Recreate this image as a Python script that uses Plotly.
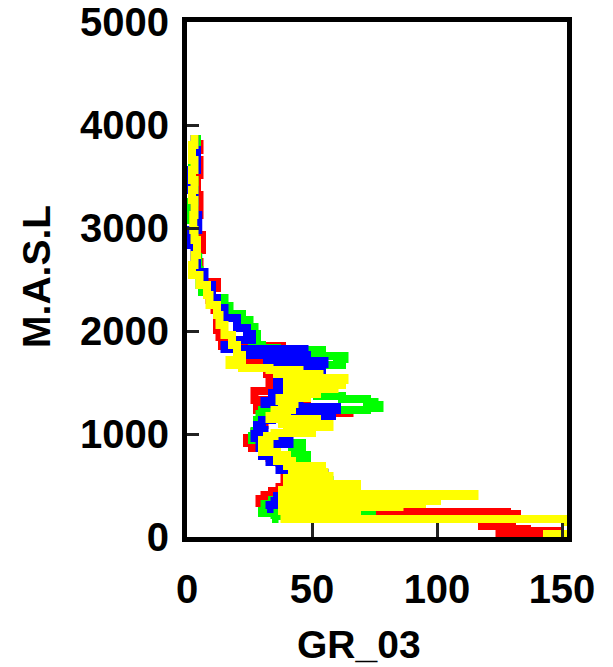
import plotly.graph_objects as go

# ---------------- data (MASL depth, GR value) ----------------
red_masl = [3855, 3758, 3661, 3515, 3321, 3127, 2932, 2787, 2670, 2573, 2476, 2418, 2301, 2204,
            2107, 2010, 1942, 1893, 1855, 1816, 1758, 1699, 1641, 1583, 1524, 1466, 1418, 1369,
            1330, 1301, 1252, 1233, 1204, 1155, 1088, 1020, 961, 913, 864, 816, 767, 719, 670,
            622, 573, 524, 485, 447, 408, 369, 330, 291, 262, 243, 223, 184, 126, 107, 78, 58,
            39, 10, -29]
red_gr = [5, 4, 5, 4, 5, 4, 6, 4, 5, 6, 12, 9, 11, 13,
          12, 13, 15, 14, 38, 20, 25, 30, 32, 33, 34, 33, 27, 27,
          48, 30, 28, 65, 34, 31, 28, 27, 24, 26, 30, 33, 37, 38, 40,
          39, 40, 39, 37, 34, 31, 29, 30, 33, 70, 128, 132, 120, 118, 130, 136, 149,
          125, 140, 140]

green_masl = [3903, 3661, 3466, 3253, 3078, 2884, 2719, 2593, 2447, 2379, 2321, 2243, 2165, 2107,
              2039, 1971, 1913, 1864, 1835, 1816, 1787, 1758, 1728, 1699, 1670, 1641, 1583, 1544,
              1485, 1427, 1398, 1369, 1340, 1311, 1282, 1252, 1233, 1194, 1136, 1078, 1029, 981,
              942, 913, 874, 835, 796, 757, 709, 670, 631, 583, 553, 515, 456, 398, 359, 320,
              282, 252, 233, 204, 175]
green_gr = [4, 2, 3, 0.5, 3, 4, 4.5, 5, 6, 10, 15, 17, 22, 25,
            27, 28, 26, 30, 36, 54, 46, 63, 60, 62, 40, 38, 40, 45,
            52, 48, 52, 62, 72, 75, 77, 72, 30, 29, 28, 29, 27, 26,
            40, 46, 42, 45, 48, 43, 38, 45, 48, 56, 57, 47, 42, 38, 34, 31,
            31, 30, 74, 35, 34]

blue_masl = [3903, 3758, 3564, 3369, 3127, 2981, 2835, 2670, 2573, 2447, 2321, 2224, 2126, 2029,
             1971, 1913, 1864, 1826, 1796, 1767, 1738, 1709, 1680, 1651, 1622, 1592, 1563, 1515,
             1476, 1437, 1398, 1359, 1321, 1291, 1262, 1233, 1204, 1175, 1136, 1088, 1039, 1000,
             961, 932, 903, 864, 825, 787, 728, 689, 651, 622, 592, 563, 524, 485, 447, 398,
             350, 311, 272]
blue_gr = [3, 4, 0.5, 3, 4.5, 1, 3, 4, 7, 10, 12, 15, 20, 24,
           26, 18, 15, 47, 25, 48, 32, 55, 34, 54, 38, 50, 36, 44,
           36, 46, 34, 38, 31, 45, 60, 44, 58, 34, 30, 28, 31, 27,
           30, 41, 29, 33, 30, 33, 38, 37, 52, 55, 50, 42, 45, 40, 38, 36,
           35, 33, 32]

yellow_masl = [3903, 3806, 3661, 3564, 3466, 3369, 3272, 3127, 2981, 2884, 2738, 2641, 2544, 2447,
               2350, 2253, 2156, 2059, 1961, 1864, 1816, 1767, 1719, 1670, 1641, 1622, 1602, 1583,
               1563, 1544, 1524, 1505, 1476, 1456, 1437, 1408, 1388, 1369, 1350, 1321, 1291, 1262,
               1233, 1204, 1175, 1146, 1117, 1097, 1068, 1039, 1010, 981, 942, 903, 864, 825, 796,
               767, 738, 709, 689, 670, 651, 631, 612, 592, 573, 553, 534, 515, 495, 476, 456,
               437, 418, 398, 379, 369, 350, 340, 320, 311, 291, 282, 262, 252, 233, 175, 146,
               29, -29]
yellow_gr = [3, 2, 3, 2, 3, 2, 3, 2.5, 3, 4, 3, 2, 5, 8,
             9, 12, 13, 15, 18, 20, 20, 22, 17, 22, 33, 45, 36, 53,
             40, 63, 45, 62, 40, 59, 42, 52, 40, 48, 37, 43, 38, 42,
             35, 40, 33, 52, 38, 57, 40, 50, 35, 32, 30, 33, 30, 36, 40,
             36, 42, 40, 54, 42, 45, 55, 42, 57, 40, 57, 42, 68, 40, 68, 38,
             50, 115, 38, 60, 100, 38, 94, 38, 85, 38, 60, 38, 68, 39, 152, 220,
             144, 144]

series = [
    ("red", red_gr, red_masl, "#ff0000"),
    ("green", green_gr, green_masl, "#00ff00"),
    ("blue", blue_gr, blue_masl, "#0000ff"),
    ("yellow", yellow_gr, yellow_masl, "#ffff00"),
]

x_ticks = [0, 50, 100, 150]
y_ticks = [0, 1000, 2000, 3000, 4000, 5000]

# ---------------- figure ----------------
fig = go.Figure()
for name, gr, masl, col in series:
    fig.add_trace(go.Scatter(x=gr, y=masl, mode="lines", name=name,
                             line=dict(color=col, width=8, shape="vh"),
                             hoverinfo="skip"))

tick_font = dict(family="Liberation Sans, Arial, sans-serif", size=40, color="black", weight="bold")
title_font = dict(family="Liberation Sans, Arial, sans-serif", size=39, color="black", weight="bold")

fig.update_layout(
    width=605, height=659,
    margin=dict(l=179, r=46, t=14, b=130),
    plot_bgcolor="white", paper_bgcolor="white",
    showlegend=False,
    font=tick_font,
)
fig.update_xaxes(range=[0, 152], tickmode="array", tickvals=x_ticks,
                 ticktext=[str(v) for v in x_ticks],
                 ticks="inside", ticklen=14, tickwidth=3, tickcolor="#222",
                 showline=True, linewidth=5, linecolor="black", mirror=True,
                 showgrid=False, zeroline=False, ticklabelstandoff=13,
                 ticklabeloverflow="allow",
                 automargin=False, tickfont=tick_font)
fig.update_yaxes(range=[0, 5000], tickmode="array", tickvals=y_ticks,
                 ticktext=[str(v) for v in y_ticks],
                 ticks="inside", ticklen=12, tickwidth=3, tickcolor="#222",
                 showline=True, linewidth=5, linecolor="black", mirror=True,
                 showgrid=False, zeroline=False, ticklabelstandoff=5,
                 ticklabeloverflow="allow",
                 automargin=False, tickfont=tick_font)

fig.add_annotation(text="GR_03", xref="paper", yref="paper", x=0.4526, y=-0.2097,
                   xanchor="center", yanchor="middle", showarrow=False, font=title_font)
fig.add_annotation(text="M.A.S.L", xref="paper", yref="paper", x=-0.3947, y=0.505,
                   xanchor="center", yanchor="middle", showarrow=False, textangle=-90,
                   font=title_font)

fig.write_html("out.html")
